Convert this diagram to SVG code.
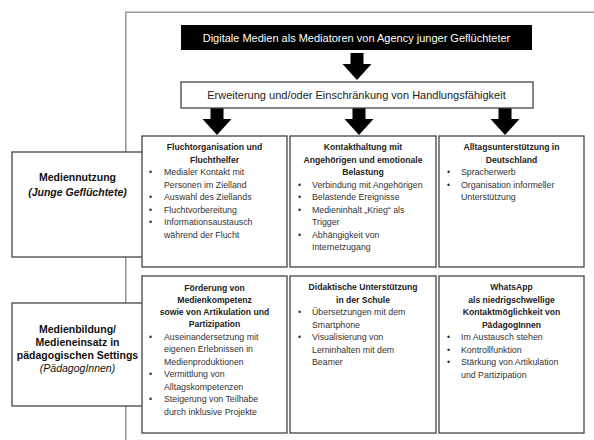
<svg xmlns="http://www.w3.org/2000/svg" width="594" height="440" viewBox="0 0 594 440">
<defs>
<style>
.frame{fill:none;stroke:#9a9a9a;stroke-width:1.6}
.box{fill:#fff;stroke:#444;stroke-width:1.3}
.t{font-family:"Liberation Sans",Arial,sans-serif;fill:#222}
.h{font-family:"Liberation Sans",Arial,sans-serif;font-weight:bold;font-size:8.6px;fill:#222;text-anchor:middle}
.b{font-family:"Liberation Sans",Arial,sans-serif;font-size:8.8px;fill:#333}
.lbl{font-family:"Liberation Sans",Arial,sans-serif;font-weight:bold;font-size:10.5px;fill:#111;text-anchor:middle}
.arrow{fill:#000}
</style>
<path id="arr" d="M-6.5,0 H6.5 V11 H14.5 L0,27 L-14.5,11 H-6.5 Z"/>
</defs>
<rect width="594" height="440" fill="#fff"/>
<path class="frame" d="M125.8,440 V12.3 H594"/>

<g id="connectors">
<use href="#arr" class="arrow" x="357" y="53"/>
<use href="#arr" class="arrow" x="217" y="108"/>
<use href="#arr" class="arrow" x="359" y="108"/>
<use href="#arr" class="arrow" x="505" y="108"/>
</g>

<g id="title">
<rect x="181" y="25" width="351" height="25" fill="#000"/>
<text class="t" x="356.5" y="41.5" font-size="11" fill="#fff" style="fill:#fff" text-anchor="middle">Digitale Medien als Mediatoren von Agency junger Geflüchteter</text>
</g>

<g id="agency">
<rect class="box" x="181" y="82" width="352" height="26"/>
<text class="t" x="356.5" y="99" font-size="11" text-anchor="middle">Erweiterung und/oder Einschränkung von Handlungsfähigkeit</text>
</g>

<g id="mediennutzung">
<rect class="box" x="12" y="152" width="131" height="105"/>
<text class="lbl" x="77.5" y="181">Mediennutzung</text>
<text class="lbl" x="77.5" y="196" font-style="italic">(Junge Geflüchtete)</text>
</g>

<g id="medienbildung">
<rect class="box" x="12" y="303" width="131" height="103"/>
<text class="lbl" x="77.5" y="333">Medienbildung/</text>
<text class="lbl" x="77.5" y="346">Medieneinsatz in</text>
<text class="lbl" x="77.5" y="359">pädagogischen Settings</text>
<text class="lbl" x="77.5" y="372" font-style="italic" font-weight="normal" style="font-weight:normal">(PädagogInnen)</text>
</g>

<g id="flucht">
<rect class="box" x="142" y="136" width="145" height="131"/>
<text class="h" x="214.5" y="150">Fluchtorganisation  und</text>
<text class="h" x="214.5" y="162.5">Fluchthelfer</text>
<g class="b">
<text x="149" y="175">•</text><text x="164" y="175">Medialer Kontakt mit</text>
<text x="164" y="187.5">Personen im Zielland</text>
<text x="149" y="200">•</text><text x="164" y="200">Auswahl des Ziellands</text>
<text x="149" y="212.5">•</text><text x="164" y="212.5">Fluchtvorbereitung</text>
<text x="149" y="225">•</text><text x="164" y="225">Informationsaustausch</text>
<text x="164" y="237.5">während der Flucht</text>
</g>
</g>

<g id="kontakt">
<rect class="box" x="290" y="136" width="146" height="131"/>
<text class="h" x="363" y="150">Kontakthaltung mit</text>
<text class="h" x="363" y="162.5">Angehörigen und emotionale</text>
<text class="h" x="363" y="175">Belastung</text>
<g class="b">
<text x="298" y="187.5">•</text><text x="312" y="187.5">Verbindung mit Angehörigen</text>
<text x="298" y="200">•</text><text x="312" y="200">Belastende Ereignisse</text>
<text x="298" y="212.5">•</text><text x="312" y="212.5">Medieninhalt „Krieg“ als</text>
<text x="312" y="225">Trigger</text>
<text x="298" y="237.5">•</text><text x="312" y="237.5">Abhängigkeit von</text>
<text x="312" y="250">Internetzugang</text>
</g>
</g>

<g id="alltag">
<rect class="box" x="439" y="136" width="145" height="131"/>
<text class="h" x="511.5" y="150">Alltagsunterstützung in</text>
<text class="h" x="511.5" y="162.5">Deutschland</text>
<g class="b">
<text x="447" y="175">•</text><text x="461" y="175">Spracherwerb</text>
<text x="447" y="187.5">•</text><text x="461" y="187.5">Organisation informeller</text>
<text x="461" y="200">Unterstützung</text>
</g>
</g>

<g id="foerderung">
<rect class="box" x="142" y="276" width="145" height="157"/>
<text class="h" x="214.5" y="291">Förderung von</text>
<text class="h" x="214.5" y="303">Medienkompetenz</text>
<text class="h" x="214.5" y="315">sowie von Artikulation und</text>
<text class="h" x="214.5" y="327">Partizipation</text>
<g class="b">
<text x="149" y="339.5">•</text><text x="164" y="339.5">Auseinandersetzung mit</text>
<text x="164" y="352">eigenen Erlebnissen in</text>
<text x="164" y="364.5">Medienproduktionen</text>
<text x="149" y="377">•</text><text x="164" y="377">Vermittlung von</text>
<text x="164" y="389.5">Alltagskompetenzen</text>
<text x="149" y="402">•</text><text x="164" y="402">Steigerung von Teilhabe</text>
<text x="164" y="414.5">durch inklusive Projekte</text>
</g>
</g>

<g id="didaktik">
<rect class="box" x="290" y="276" width="146" height="157"/>
<text class="h" x="363" y="290">Didaktische Unterstützung</text>
<text class="h" x="363" y="302.5">in der Schule</text>
<g class="b">
<text x="298" y="315">•</text><text x="312" y="315">Übersetzungen  mit dem</text>
<text x="312" y="327.5">Smartphone</text>
<text x="298" y="340">•</text><text x="312" y="340">Visualisierung von</text>
<text x="312" y="352.5">Lerninhalten mit dem</text>
<text x="312" y="365">Beamer</text>
</g>
</g>

<g id="whatsapp">
<rect class="box" x="439" y="276" width="145" height="157"/>
<text class="h" x="511.5" y="290">WhatsApp</text>
<text class="h" x="511.5" y="302.5">als niedrigschwellige</text>
<text class="h" x="511.5" y="315">Kontaktmöglichkeit  von</text>
<text class="h" x="511.5" y="327.5">PädagogInnen</text>
<g class="b">
<text x="447" y="340">•</text><text x="461" y="340">Im Austausch stehen</text>
<text x="447" y="352.5">•</text><text x="461" y="352.5">Kontrollfunktion</text>
<text x="447" y="365">•</text><text x="461" y="365">Stärkung von Artikulation</text>
<text x="461" y="377.5">und Partizipation</text>
</g>
</g>
</svg>
